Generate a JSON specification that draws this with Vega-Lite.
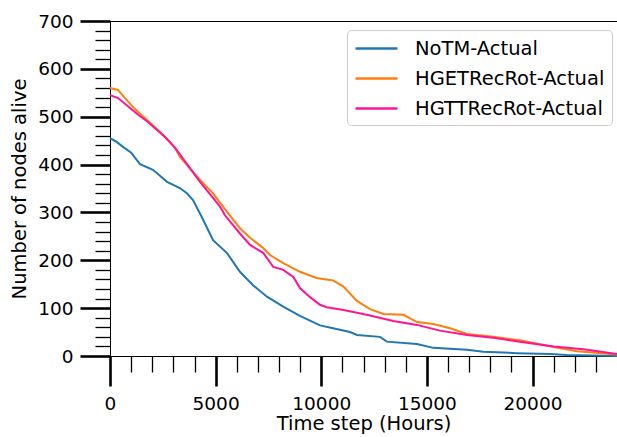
{
  "$schema": "https://vega.github.io/schema/vega-lite/v6.json",
  "width": 507,
  "height": 335,
  "autosize": {"type": "none"},
  "padding": {"left": 110, "top": 21, "right": 0, "bottom": 81},
  "config": {
    "view": {"stroke": "black", "strokeWidth": 1},
    "font": "DejaVu Sans"
  },
  "data": {"values": [
    {"t": 0, "v": 455, "s": "NoTM-Actual"},
    {"t": 300, "v": 448, "s": "NoTM-Actual"},
    {"t": 615, "v": 437, "s": "NoTM-Actual"},
    {"t": 1000, "v": 425, "s": "NoTM-Actual"},
    {"t": 1420, "v": 401, "s": "NoTM-Actual"},
    {"t": 2035, "v": 389, "s": "NoTM-Actual"},
    {"t": 2700, "v": 364, "s": "NoTM-Actual"},
    {"t": 3310, "v": 351, "s": "NoTM-Actual"},
    {"t": 3640, "v": 340, "s": "NoTM-Actual"},
    {"t": 3930, "v": 326, "s": "NoTM-Actual"},
    {"t": 4350, "v": 290, "s": "NoTM-Actual"},
    {"t": 4880, "v": 242, "s": "NoTM-Actual"},
    {"t": 5540, "v": 215, "s": "NoTM-Actual"},
    {"t": 6150, "v": 176, "s": "NoTM-Actual"},
    {"t": 6770, "v": 148, "s": "NoTM-Actual"},
    {"t": 7430, "v": 124, "s": "NoTM-Actual"},
    {"t": 8200, "v": 103, "s": "NoTM-Actual"},
    {"t": 8990, "v": 84, "s": "NoTM-Actual"},
    {"t": 9940, "v": 64, "s": "NoTM-Actual"},
    {"t": 10560, "v": 58, "s": "NoTM-Actual"},
    {"t": 11360, "v": 50, "s": "NoTM-Actual"},
    {"t": 11690, "v": 44, "s": "NoTM-Actual"},
    {"t": 12780, "v": 40, "s": "NoTM-Actual"},
    {"t": 13100, "v": 30, "s": "NoTM-Actual"},
    {"t": 14530, "v": 25, "s": "NoTM-Actual"},
    {"t": 15300, "v": 17, "s": "NoTM-Actual"},
    {"t": 16900, "v": 13, "s": "NoTM-Actual"},
    {"t": 17670, "v": 9, "s": "NoTM-Actual"},
    {"t": 19260, "v": 6, "s": "NoTM-Actual"},
    {"t": 20830, "v": 4, "s": "NoTM-Actual"},
    {"t": 21630, "v": 2, "s": "NoTM-Actual"},
    {"t": 24000, "v": 0, "s": "NoTM-Actual"},
    {"t": 0, "v": 560, "s": "HGETRecRot-Actual"},
    {"t": 380, "v": 556, "s": "HGETRecRot-Actual"},
    {"t": 710, "v": 539, "s": "HGETRecRot-Actual"},
    {"t": 1180, "v": 516, "s": "HGETRecRot-Actual"},
    {"t": 1660, "v": 497, "s": "HGETRecRot-Actual"},
    {"t": 2130, "v": 478, "s": "HGETRecRot-Actual"},
    {"t": 2750, "v": 451, "s": "HGETRecRot-Actual"},
    {"t": 3080, "v": 435, "s": "HGETRecRot-Actual"},
    {"t": 3310, "v": 416, "s": "HGETRecRot-Actual"},
    {"t": 4260, "v": 368, "s": "HGETRecRot-Actual"},
    {"t": 4880, "v": 340, "s": "HGETRecRot-Actual"},
    {"t": 5540, "v": 301, "s": "HGETRecRot-Actual"},
    {"t": 6150, "v": 267, "s": "HGETRecRot-Actual"},
    {"t": 6630, "v": 247, "s": "HGETRecRot-Actual"},
    {"t": 7240, "v": 226, "s": "HGETRecRot-Actual"},
    {"t": 7570, "v": 211, "s": "HGETRecRot-Actual"},
    {"t": 8200, "v": 194, "s": "HGETRecRot-Actual"},
    {"t": 8990, "v": 176, "s": "HGETRecRot-Actual"},
    {"t": 9780, "v": 163, "s": "HGETRecRot-Actual"},
    {"t": 10410, "v": 159, "s": "HGETRecRot-Actual"},
    {"t": 10560, "v": 158, "s": "HGETRecRot-Actual"},
    {"t": 11050, "v": 145, "s": "HGETRecRot-Actual"},
    {"t": 11690, "v": 115, "s": "HGETRecRot-Actual"},
    {"t": 12310, "v": 98, "s": "HGETRecRot-Actual"},
    {"t": 12940, "v": 88, "s": "HGETRecRot-Actual"},
    {"t": 13890, "v": 86, "s": "HGETRecRot-Actual"},
    {"t": 14530, "v": 71, "s": "HGETRecRot-Actual"},
    {"t": 15300, "v": 67, "s": "HGETRecRot-Actual"},
    {"t": 16100, "v": 58, "s": "HGETRecRot-Actual"},
    {"t": 16900, "v": 46, "s": "HGETRecRot-Actual"},
    {"t": 18140, "v": 40, "s": "HGETRecRot-Actual"},
    {"t": 19400, "v": 33, "s": "HGETRecRot-Actual"},
    {"t": 20520, "v": 23, "s": "HGETRecRot-Actual"},
    {"t": 21000, "v": 19, "s": "HGETRecRot-Actual"},
    {"t": 22110, "v": 10, "s": "HGETRecRot-Actual"},
    {"t": 24000, "v": 3, "s": "HGETRecRot-Actual"},
    {"t": 0, "v": 545, "s": "HGTTRecRot-Actual"},
    {"t": 380, "v": 539, "s": "HGTTRecRot-Actual"},
    {"t": 850, "v": 522, "s": "HGTTRecRot-Actual"},
    {"t": 1330, "v": 504, "s": "HGTTRecRot-Actual"},
    {"t": 1800, "v": 489, "s": "HGTTRecRot-Actual"},
    {"t": 2130, "v": 476, "s": "HGTTRecRot-Actual"},
    {"t": 2600, "v": 458, "s": "HGTTRecRot-Actual"},
    {"t": 3080, "v": 435, "s": "HGTTRecRot-Actual"},
    {"t": 4260, "v": 364, "s": "HGTTRecRot-Actual"},
    {"t": 5210, "v": 312, "s": "HGTTRecRot-Actual"},
    {"t": 5440, "v": 294, "s": "HGTTRecRot-Actual"},
    {"t": 6150, "v": 256, "s": "HGTTRecRot-Actual"},
    {"t": 6630, "v": 232, "s": "HGTTRecRot-Actual"},
    {"t": 7260, "v": 215, "s": "HGTTRecRot-Actual"},
    {"t": 7730, "v": 186, "s": "HGTTRecRot-Actual"},
    {"t": 8200, "v": 180, "s": "HGTTRecRot-Actual"},
    {"t": 8680, "v": 165, "s": "HGTTRecRot-Actual"},
    {"t": 8990, "v": 142, "s": "HGTTRecRot-Actual"},
    {"t": 9470, "v": 123, "s": "HGTTRecRot-Actual"},
    {"t": 9940, "v": 107, "s": "HGTTRecRot-Actual"},
    {"t": 10260, "v": 102, "s": "HGTTRecRot-Actual"},
    {"t": 11050, "v": 96, "s": "HGTTRecRot-Actual"},
    {"t": 12150, "v": 86, "s": "HGTTRecRot-Actual"},
    {"t": 13410, "v": 73, "s": "HGTTRecRot-Actual"},
    {"t": 14530, "v": 65, "s": "HGTTRecRot-Actual"},
    {"t": 15620, "v": 53, "s": "HGTTRecRot-Actual"},
    {"t": 16900, "v": 44, "s": "HGTTRecRot-Actual"},
    {"t": 18140, "v": 38, "s": "HGTTRecRot-Actual"},
    {"t": 19400, "v": 30, "s": "HGTTRecRot-Actual"},
    {"t": 21000, "v": 20, "s": "HGTTRecRot-Actual"},
    {"t": 22420, "v": 14, "s": "HGTTRecRot-Actual"},
    {"t": 24000, "v": 4, "s": "HGTTRecRot-Actual"}
  ]},
  "layer": [
    {
      "mark": {"type": "line", "opacity": 0},
      "encoding": {
        "x": {"field": "t", "type": "quantitative", "scale": {"domain": [0, 24000], "nice": false},
          "axis": {"orient": "bottom", "values": [1000,2000,3000,4000,6000,7000,8000,9000,11000,12000,13000,14000,16000,17000,18000,19000,21000,22000,23000],
            "labels": false, "domain": false, "grid": false, "title": null, "tickSize": 16, "tickWidth": 1.3, "tickColor": "black"}},
        "y": {"field": "v", "type": "quantitative", "scale": {"domain": [0, 700], "nice": false},
          "axis": {"orient": "left", "values": [20,40,60,80,120,140,160,180,220,240,260,280,320,340,360,380,420,440,460,480,520,540,560,580,620,640,660,680],
            "labels": false, "domain": false, "grid": false, "title": null, "tickSize": 15, "tickWidth": 1.3, "tickColor": "black"}},
        "detail": {"field": "s"}
      }
    },
    {
      "mark": {"type": "line", "strokeWidth": 2},
      "encoding": {
        "x": {"field": "t", "type": "quantitative", "scale": {"domain": [0, 24000], "nice": false},
          "axis": {"orient": "bottom", "values": [0, 5000, 10000, 15000, 20000], "grid": false, "format": "d",
            "title": "Time step (Hours)", "titleFontSize": 19.5, "titleFont": "DejaVu Sans", "titleFontWeight": "normal", "titleColor": "black", "titlePadding": 2,
            "labelFontSize": 18.5, "labelFont": "DejaVu Sans", "labelColor": "black", "labelPadding": 8, "labelFlush": false,
            "tickSize": 30, "tickWidth": 2.6, "tickColor": "black", "domainColor": "black", "domainWidth": 1}},
        "y": {"field": "v", "type": "quantitative", "scale": {"domain": [0, 700], "nice": false},
          "axis": {"orient": "left", "values": [0, 100, 200, 300, 400, 500, 600, 700], "grid": false, "format": "d",
            "title": "Number of nodes alive", "titleFontSize": 19.5, "titleFont": "DejaVu Sans", "titleFontWeight": "normal", "titleColor": "black", "titlePadding": 8,
            "labelFontSize": 18.5, "labelFont": "DejaVu Sans", "labelColor": "black", "labelPadding": 7, "labelFlush": false,
            "tickSize": 30, "tickWidth": 2.6, "tickColor": "black", "domainColor": "black", "domainWidth": 1}},
        "color": {"field": "s", "type": "nominal",
          "scale": {"domain": ["NoTM-Actual", "HGETRecRot-Actual", "HGTTRecRot-Actual"], "range": ["#1f77b4", "#ff7f0e", "#ff1493"]},
          "legend": {"orient": "none", "legendX": 237, "legendY": 9, "title": null, "strokeColor": "#cccccc", "fillColor": "white", "cornerRadius": 4, "padding": 7,
            "symbolType": "M-1,0H3.2", "symbolStrokeWidth": 2.5, "symbolSize": 400, "labelFontSize": 19.5, "labelFont": "DejaVu Sans", "labelColor": "black", "labelOffset": 38, "labelLimit": 0, "rowPadding": 9}}
      }
    }
  ],
  "resolve": {"axis": {"x": "independent", "y": "independent"}}
}
